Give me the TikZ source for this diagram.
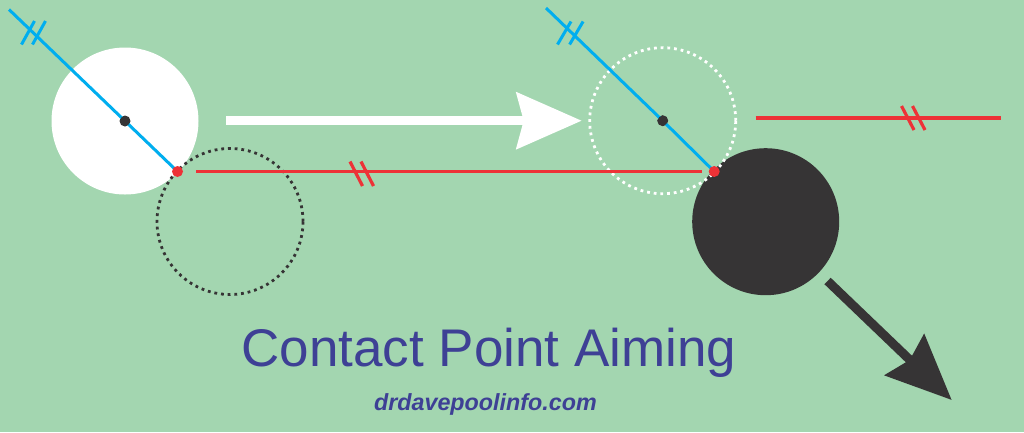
\documentclass[tikz,border=0pt]{standalone}
\usepackage{fontspec}
\setmainfont{Liberation Sans}
\usepackage{tikz}
\usetikzlibrary{arrows.meta,positioning}
\definecolor{felt}{RGB}{163,214,176}
\definecolor{aimblue}{RGB}{0,174,239}
\definecolor{cpred}{RGB}{237,50,55}
\definecolor{ballgray}{RGB}{54,52,53}
\definecolor{titleblue}{RGB}{62,64,149}

\begin{document}
\begin{tikzpicture}[x=1pt,y=-1pt,
        ball/.style={circle,inner sep=0pt,minimum size=147pt},
        ghostball/.style={circle,inner sep=0pt,minimum size=146pt,line width=2.8pt,dash pattern=on 2.8pt off 3.9pt},
        dot/.style={circle,inner sep=0pt,minimum size=11pt},
        aimline/.style={color=aimblue,line width=3pt},
        tanline/.style={color=cpred,line width=3.2pt},
        fatarrow/.style={line width=9pt,-{Stealth[length=65pt,width=56pt,inset=7pt]}}]
        \fill[felt] (0,0) rectangle (1024,432);
        \useasboundingbox (0,0) rectangle (1024,432);
        \node[ball,fill=white] (cue) at (125,121) {};
        \node[ghostball,draw=ballgray] (ghost1) at (230,221.5) {};
        \node[ball,fill=ballgray] (obj) at (765.7,221.7) {};
        \node[ghostball,draw=white] (ghost2) at (662.7,120.7) {};
        \node[dot,fill=ballgray] (c1) at (cue) {};
        \node[dot,fill=ballgray] (c2) at (ghost2) {};
        \coordinate (aim1) at (9,9.5);
        \coordinate (aim2) at (546,8);
        \coordinate (tan1) at (755.7,118);
        \coordinate (tan2) at (1001,118);
        \coordinate (push) at (226,120.7);
        \coordinate (away) at (951.7,400);
        \draw[aimline] (aim1) -- (c1.center) -- (177.5,171.5) coordinate (p1);
        \draw[aimline] (aim2) -- (c2.center) -- (714.2,171.5) coordinate (p2);
        \node[dot,fill=ballgray,minimum size=10pt] at (c1) {};
        \node[dot,fill=ballgray,minimum size=10pt] at (c2) {};
        \node[dot,fill=cpred] (cp1) at (p1) {};
        \node[dot,fill=cpred] (cp2) at (p2) {};
        \draw[tanline,shorten <=13pt,shorten >=7pt] (cp1) -- (cp2);
        \draw[tanline] (tan1) -- (tan2);
        \foreach \dx in {0,11} {
            \draw[aimline] (21.5+\dx,44.5) -- (34.5+\dx,21);
            \draw[aimline] (557.5+\dx*1.1,44.5) -- (571+\dx*1.1,21.5);
            \draw[tanline] (350+\dx,161.5) -- (362.5+\dx,186);
            \draw[tanline] (901.5+\dx,106) -- (914+\dx,130);
        }
        \draw[white,fatarrow,shorten >=6.6pt] (push) -- (ghost2.west);
        \draw[ballgray,fatarrow,shorten <=12pt] (obj) -- (away);
        \node[text=titleblue,font=\fontsize{53}{60}\selectfont,anchor=base] (title) at (489,366.7) {Contact Point Aiming};
        \node[text=titleblue,font=\fontsize{23.3}{28}\selectfont\bfseries\itshape,anchor=base] (site) at (485.4,410) {drdavepoolinfo.com};
    \end{tikzpicture}
\end{document}
